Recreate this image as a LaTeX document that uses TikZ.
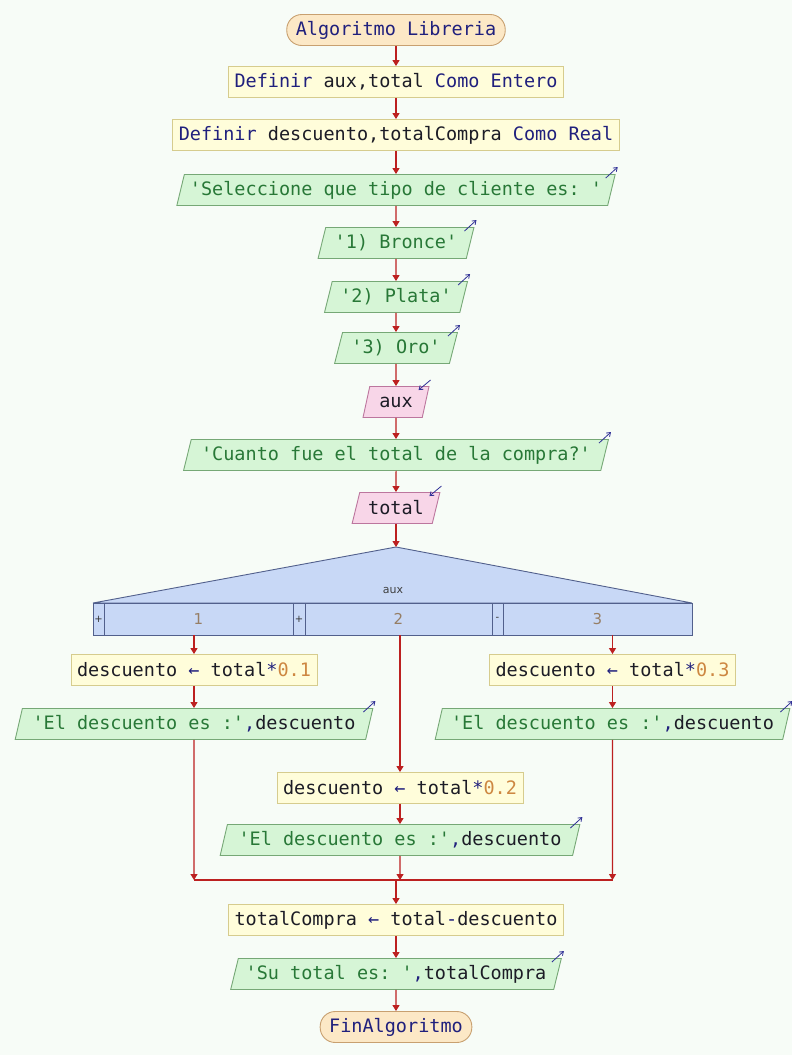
\documentclass[tikz,border=0pt]{standalone}
\usepackage{fontspec}
\setmonofont{DejaVu Sans Mono}
\newfontfamily\caselabelfont{DejaVu Sans}
\usetikzlibrary{shapes.geometric,arrows.meta,calc}

\definecolor{bg}{RGB}{247,252,247}
\definecolor{kw}{RGB}{32,32,125}
\definecolor{str}{RGB}{40,120,55}
\definecolor{num}{RGB}{205,135,65}
\definecolor{idf}{RGB}{28,28,38}
\definecolor{termfill}{RGB}{252,232,198}
\definecolor{termdraw}{RGB}{200,160,112}
\definecolor{procfill}{RGB}{255,253,218}
\definecolor{procdraw}{RGB}{214,204,142}
\definecolor{outfill}{RGB}{214,245,214}
\definecolor{outdraw}{RGB}{118,168,118}
\definecolor{infill}{RGB}{248,214,232}
\definecolor{indraw}{RGB}{188,118,158}
\definecolor{swfill}{RGB}{200,216,246}
\definecolor{swdraw}{RGB}{82,96,140}
\definecolor{flow}{RGB}{188,32,32}
\definecolor{ioarrow}{RGB}{48,48,150}

\newcommand\kwd[1]{\textcolor{kw}{#1}}
\newcommand\strg[1]{\textcolor{str}{#1}}
\newcommand\numb[1]{\textcolor{num}{#1}}

\tikzset{
  base/.style={font=\ttfamily\fontsize{18.5}{20}\selectfont, text=idf,
    minimum height=31pt, inner xsep=6pt, inner ysep=0pt, line width=0.9pt},
  term/.style={base, rectangle, rounded corners=15pt, fill=termfill, draw=termdraw,
    text=kw, inner xsep=9pt},
  proc/.style={base, rectangle, fill=procfill, draw=procdraw},
  para/.style={base, trapezium, trapezium left angle=68, trapezium right angle=112,
    trapezium stretches=true, inner xsep=0pt},
  outp/.style={para, fill=outfill, draw=outdraw},
  inp/.style={para, fill=infill, draw=indraw},
  flowline/.style={draw=flow, line width=1.1pt},
  flowarrow/.style={flowline, -{Triangle[length=6pt,width=7pt]}},
  ioicon/.style={draw=ioarrow, line width=0.8pt, -{Straight Barb[length=3.5pt,width=5pt]}},
  swcell/.style={rectangle, draw=swdraw, fill=swfill, line width=0.9pt,
    minimum height=32pt, inner sep=0pt},
  caselabel/.style={font=\caselabelfont\fontsize{15}{15}\selectfont, text=black!45!brown!70},
  casemark/.style={font=\caselabelfont\fontsize{10}{10}\selectfont, text=black!80}
}

\begin{document}
\begin{tikzpicture}[x=1pt,y=-1pt]
\useasboundingbox (0,0) rectangle (792,1055);
\fill[bg] (0,0) rectangle (792,1055);

% main column
\node[term] (start) at (396,30) {Algoritmo Libreria};
\node[proc] (def1) at (396,82) {\kwd{Definir} aux,total \kwd{Como Entero}};
\node[proc] (def2) at (396,135) {\kwd{Definir} descuento,totalCompra \kwd{Como Real}};
\node[outp, minimum width=440pt] (sel) at (396,190) {\strg{'Seleccione que tipo de cliente es: '}};
\node[outp, minimum width=156pt] (bro) at (396,243) {\strg{'1) Bronce'}};
\node[outp, minimum width=143pt] (pla) at (396,297) {\strg{'2) Plata'}};
\node[outp, minimum width=123pt] (oro) at (396,348) {\strg{'3) Oro'}};
\node[inp, minimum width=66pt] (aux) at (396,402) {aux};
\node[outp, minimum width=425pt] (cua) at (396,455) {\strg{'Cuanto fue el total de la compra?'}};
\node[inp, minimum width=88pt] (tot) at (396,508) {total};

% selector on aux
\coordinate (sw) at (396,547);
\draw[fill=swfill, draw=swdraw, line width=0.9pt] (sw) -- (692,603) -- (93,603) -- cycle;
\node[font=\caselabelfont\fontsize{11}{11}\selectfont, text=black!75] (swlab) at (393,590) {aux};
\node[swcell, minimum width=11pt] (m1) at (98.5,619) {};
\node[swcell, minimum width=189pt] (c1) at (198.5,619) {};
\node[swcell, minimum width=12pt] (m2) at (299,619) {};
\node[swcell, minimum width=187pt] (c2) at (398.5,619) {};
\node[swcell, minimum width=11pt] (m3) at (497.5,619) {};
\node[swcell, minimum width=189pt] (c3) at (597.5,619) {};
\node[casemark] at (m1) {+};
\node[casemark] at (m2) {+};
\node[casemark] at (m3) {-};
\node[caselabel] at (c1) {1};
\node[caselabel] at (c2) {2};
\node[caselabel] at (c3) {3};

% case 1
\node[proc] (a1) at (194,670) {descuento \kwd{←} total\kwd{*}\numb{0.1}};
\node[outp, minimum width=359pt] (o1) at (194,724) {\strg{'El descuento es :'}\kwd{,}descuento};
% case 3
\node[proc] (a3) at (612.5,670) {descuento \kwd{←} total\kwd{*}\numb{0.3}};
\node[outp, minimum width=356pt] (o3) at (612.5,724) {\strg{'El descuento es :'}\kwd{,}descuento};
% case 2
\node[proc] (a2) at (400,788) {descuento \kwd{←} total\kwd{*}\numb{0.2}};
\node[outp, minimum width=361pt] (o2) at (400,840) {\strg{'El descuento es :'}\kwd{,}descuento};

% after the selector
\node[proc] (tc) at (396,920) {totalCompra \kwd{←} total\kwd{-}descuento};
\node[outp, minimum width=332pt] (su) at (396,974) {\strg{'Su total es: '}\kwd{,}totalCompra};
\node[term] (fin) at (396,1027) {FinAlgoritmo};

% input / output markers
\foreach \n in {sel,bro,pla,oro,cua,o1,o2,o3,su}
  \draw[ioicon] ($(\n.top right corner)+(-10,4)$) -- ++(12,-11);
\foreach \n in {aux,tot}
  \draw[ioicon] ($(\n.top right corner)+(1,-6)$) -- ++(-12,10);

% flow
\draw[flowarrow] (start) -- (def1);
\draw[flowarrow] (def1) -- (def2);
\draw[flowarrow] (def2) -- (sel);
\draw[flowarrow] (sel) -- (bro);
\draw[flowarrow] (bro) -- (pla);
\draw[flowarrow] (pla) -- (oro);
\draw[flowarrow] (oro) -- (aux);
\draw[flowarrow] (aux) -- (cua);
\draw[flowarrow] (cua) -- (tot);
\draw[flowarrow] (tot) -- (sw);

\draw[flowarrow] (c1.south -| a1.north) -- (a1.north);
\draw[flowarrow] (c2.south -| a2.north) -- (a2.north);
\draw[flowarrow] (c3.south -| a3.north) -- (a3.north);
\draw[flowarrow] (a1) -- (o1);
\draw[flowarrow] (a2) -- (o2);
\draw[flowarrow] (a3) -- (o3);

\coordinate (jl) at (194,880);
\coordinate (jr) at (612.5,880);
\coordinate (jc) at (400,880);
\coordinate (jm) at (396,880);
\draw[flowline] (jl) -- (jr);
\draw[flowarrow] (o1.south) -- (jl);
\draw[flowarrow] (o3.south) -- (jr);
\draw[flowarrow] (o2.south) -- (jc);
\draw[flowarrow] (jm) -- (tc.north);
\draw[flowarrow] (tc) -- (su);
\draw[flowarrow] (su) -- (fin);
\end{tikzpicture}
\end{document}
